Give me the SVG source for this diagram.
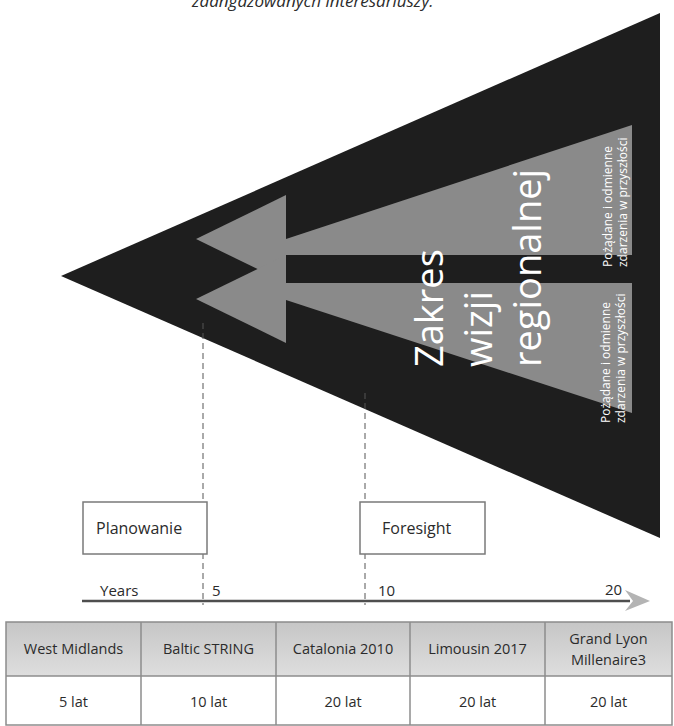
<svg xmlns="http://www.w3.org/2000/svg" width="674" height="726" viewBox="0 0 674 726">
  <style>
    .t { font-family: "Open Sans", "Liberation Sans", sans-serif; fill: #2b2b2b; }
    .box { fill: #ffffff; stroke: #7a7a7a; stroke-width: 1.5; }
    .dash { stroke: #555555; stroke-width: 1; stroke-dasharray: 6 4; fill: none; }
    .cell { stroke: #8c8c8c; stroke-width: 1.5; }
    .vis { fill: #ffffff; }
  </style>
  <defs>
    <linearGradient id="hdr" x1="0" y1="0" x2="0" y2="1">
      <stop offset="0" stop-color="#c6c6c6"/>
      <stop offset="1" stop-color="#dedede"/>
    </linearGradient>
  </defs>

  <rect width="674" height="726" fill="#ffffff"/>

  <!-- caption tail at the top edge -->
  <text class="t" x="192" y="7" font-size="17" font-style="italic">zaangażowanych interesariuszy.</text>

  <!-- vision cone -->
  <g id="cone">
    <polygon points="61,276 660,13 660,538" fill="#1e1e1e"/>
  </g>

  <!-- two arrows pointing back toward the present -->
  <g id="arrow-upper" fill="#8a8a8a">
    <polygon points="196,239 286,195 286,283"/>
    <polygon points="286,239 632,125 632,255 286,255"/>
  </g>
  <g id="arrow-lower" fill="#8a8a8a">
    <polygon points="196,299 286,255 286,343"/>
    <polygon points="286,283 632,283 632,413 286,300"/>
  </g>

  <!-- vertical labels -->
  <g id="label-scope">
    <text class="t vis" font-size="38" transform="translate(443,367) rotate(-90)">Zakres</text>
    <text class="t vis" font-size="38" transform="translate(492,367) rotate(-90)">wizji</text>
    <text class="t vis" font-size="38" transform="translate(541,367) rotate(-90)">regionalnej</text>
  </g>
  <g id="label-events-upper">
    <text class="t vis" font-size="12" transform="translate(612,267) rotate(-90)">Pożądane i odmienne</text>
    <text class="t vis" font-size="12" transform="translate(627,267) rotate(-90)">zdarzenia w przyszłości</text>
  </g>
  <g id="label-events-lower">
    <text class="t vis" font-size="12" transform="translate(610,423) rotate(-90)">Pożądane i odmienne</text>
    <text class="t vis" font-size="12" transform="translate(625,423) rotate(-90)">zdarzenia w przyszłości</text>
  </g>

  <!-- connectors: horizon markers and time axis -->
  <g id="connectors">
    <line class="dash" x1="203" y1="323" x2="203" y2="605"/>
    <line class="dash" x1="365" y1="393" x2="365" y2="605"/>
    <line x1="82" y1="601" x2="630" y2="601" stroke="#4e4e4e" stroke-width="2.5"/>
    <polygon points="625,590 650,601 625,611 633,601" fill="#b4b4b4"/>
  </g>

  <!-- horizon boxes -->
  <g id="planowanie">
    <rect class="box" x="83" y="502" width="124" height="52"/>
    <text class="t" x="96" y="534" font-size="16">Planowanie</text>
  </g>
  <g id="foresight">
    <rect class="box" x="360" y="502" width="125" height="52"/>
    <text class="t" x="382" y="534" font-size="16">Foresight</text>
  </g>

  <!-- axis labels -->
  <g id="axis-labels">
    <text class="t" x="100" y="596" font-size="15">Years</text>
    <text class="t" x="212" y="596" font-size="15">5</text>
    <text class="t" x="378" y="596" font-size="15">10</text>
    <text class="t" x="605" y="595" font-size="15">20</text>
  </g>

  <!-- comparison table -->
  <g id="table">
    <rect x="6" y="622" width="666" height="54" fill="url(#hdr)"/>
    <rect x="6" y="676" width="666" height="49" fill="#ffffff"/>
    <rect class="cell" x="6" y="622" width="666" height="103" fill="none"/>
    <line class="cell" x1="6" y1="676" x2="672" y2="676"/>
    <line class="cell" x1="141" y1="622" x2="141" y2="725"/>
    <line class="cell" x1="276" y1="622" x2="276" y2="725"/>
    <line class="cell" x1="410" y1="622" x2="410" y2="725"/>
    <line class="cell" x1="545" y1="622" x2="545" y2="725"/>
    <g font-size="14.5" text-anchor="middle">
      <text class="t" x="73.5" y="654">West Midlands</text>
      <text class="t" x="208.5" y="654">Baltic STRING</text>
      <text class="t" x="343" y="654">Catalonia 2010</text>
      <text class="t" x="477.5" y="654">Limousin 2017</text>
      <text class="t" x="608.5" y="644">Grand Lyon</text>
      <text class="t" x="608.5" y="665">Millenaire3</text>
      <text class="t" x="73.5" y="707">5 lat</text>
      <text class="t" x="208.5" y="707">10 lat</text>
      <text class="t" x="343" y="707">20 lat</text>
      <text class="t" x="477.5" y="707">20 lat</text>
      <text class="t" x="608.5" y="707">20 lat</text>
    </g>
  </g>
</svg>
